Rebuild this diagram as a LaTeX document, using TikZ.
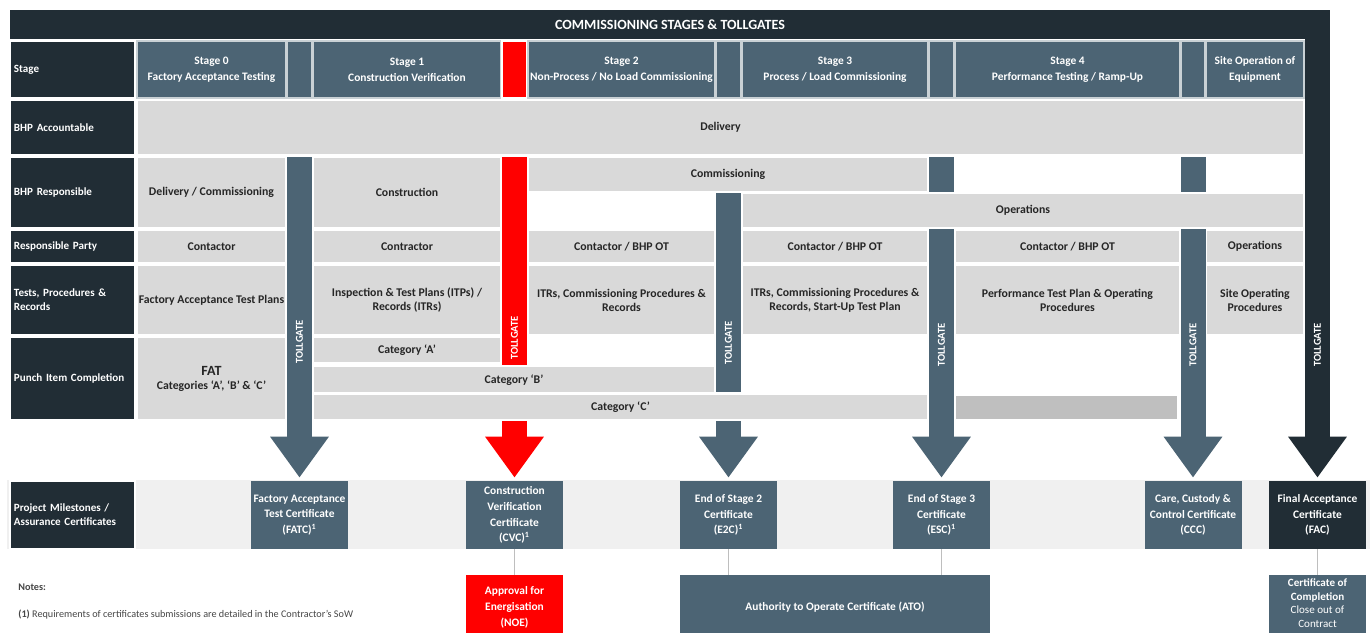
\documentclass[tikz,border=0pt]{standalone}
\usepackage{fontspec}
\setmainfont{Carlito}
\usetikzlibrary{positioning,arrows.meta}
\definecolor{TollNavy}{RGB}{33,45,53}
\definecolor{StageSlate}{RGB}{76,100,116}
\definecolor{CellGrey}{RGB}{217,217,217}
\definecolor{BandGrey}{RGB}{240,240,240}
\definecolor{DeepGrey}{RGB}{191,191,191}
\definecolor{GateRed}{RGB}{255,0,0}
\definecolor{InkGrey}{RGB}{38,38,38}
\definecolor{NoteGrey}{RGB}{70,70,70}
\definecolor{LinkGrey}{RGB}{190,190,190}
\newcommand{\tabfont}{\fontsize{6.7}{8}\selectfont\bfseries}
\newcommand{\stagefont}{\fontsize{6.5}{9}\selectfont\bfseries}
\newcommand{\rowfont}{\fontsize{6.3}{8}\selectfont\bfseries}
\newcommand{\certfont}{\fontsize{6.5}{9}\selectfont\bfseries}
\newcommand{\notefont}{\fontsize{5.8}{7}\selectfont}
\newcommand{\gatefont}{\fontsize{6}{7}\selectfont\bfseries}
\newcommand{\titlefont}{\fontsize{8}{9}\selectfont\bfseries}
\tikzset{
  cellbox/.style args={#1,#2,#3,#4}{at={({(#1+#3)/2},{(#2+#4)/2})},
    minimum width={(#3-#1)*0.2mm},minimum height={(#4-#2)*0.2mm}},
  cell/.style={fill=CellGrey,draw=white,line width=0.6pt,inner sep=0pt,
    align=center,text=InkGrey,font=\tabfont},
  overcell/.style={cell,line width=1.6pt},
  darkcell/.style={cell,fill=DeepGrey},
  stagecell/.style={fill=StageSlate,draw=white!70!StageSlate,line width=0.6pt,
    inner sep=0pt,align=center,text=white,font=\stagefont},
  redcell/.style={stagecell,fill=GateRed,draw=white},
  rowhead/.style={fill=TollNavy,draw=white,line width=0.6pt,inner sep=0pt,
    align=left,text width=23.4mm,text=white,font=\rowfont},
  titlebar/.style={fill=TollNavy,inner sep=0pt,text=white,font=\titlefont},
  certbox/.style={fill=StageSlate,inner sep=0pt,align=center,text=white,font=\certfont},
  finalbox/.style={certbox,fill=TollNavy},
  redbox/.style={certbox,fill=GateRed},
  gatearrow/.style={-{Triangle[width=11.2mm,length=8.2mm]},line width=5mm,
    draw=StageSlate,shorten >=0.6mm},
  redgate/.style={gatearrow,draw=GateRed},
  finalgate/.style={gatearrow,draw=TollNavy},
  gatelabel/.style={rotate=90,inner sep=0pt,text=white,font=\gatefont},
  link/.style={draw=LinkGrey,line width=0.6pt},
  notetext/.style={anchor=west,inner sep=0pt,text=NoteGrey,font=\notefont}
}
\begin{document}
\begin{tikzpicture}[x=0.2mm,y=-0.2mm]
  \fill[white] (0,0) rectangle (1370,633);
  \useasboundingbox (0,0) rectangle (1370,633);
  \node[titlebar,cellbox={10,10,1330,39}] (title) {COMMISSIONING STAGES \& TOLLGATES};

  \node[rowhead,cellbox={10,41,135,98}] (hstage) {Stage};
  \node[rowhead,cellbox={10,100,135,155}] (hacc) {BHP Accountable};
  \node[rowhead,cellbox={10,157,135,228}] (hresp) {BHP Responsible};
  \node[rowhead,cellbox={10,230,135,263}] (hparty) {Responsible Party};
  \node[rowhead,cellbox={10,265,135,335}] (htests) {Tests, Procedures \&\\Records};
  \node[rowhead,cellbox={10,337,135,420}] (hpunch) {Punch Item Completion};

  \node[stagecell,cellbox={137,41,286,98}] (st0) {Stage 0\\Factory Acceptance Testing};
  \node[stagecell,cellbox={287,41,312,98}] (sg0) {};
  \node[stagecell,cellbox={313,41,501,98}] (st1) {Stage 1\\Construction Verification};
  \node[redcell,cellbox={502,41,527,98}] (sg1) {};
  \node[stagecell,cellbox={528,41,715,98}] (st2) {Stage 2\\Non-Process / No Load Commissioning};
  \node[stagecell,cellbox={716,41,741,98}] (sg2) {};
  \node[stagecell,cellbox={742,41,928,98}] (st3) {Stage 3\\Process / Load Commissioning};
  \node[stagecell,cellbox={929,41,954,98}] (sg3) {};
  \node[stagecell,cellbox={955,41,1180,98}] (st4) {Stage 4\\Performance Testing / Ramp-Up};
  \node[stagecell,cellbox={1181,41,1205,98}] (sg4) {};
  \node[stagecell,cellbox={1206,41,1304,98}] (st5) {Site Operation of\\Equipment};

  \node[cell,cellbox={137,100,1304,155}] (delivery) {Delivery};

  \node[cell,cellbox={137,157,286,228}] (rd0) {Delivery / Commissioning};
  \node[cell,cellbox={313,157,501,228}] (rd1) {Construction};
  \node[cell,cellbox={528,157,928,192}] (comm) {Commissioning};

  \node[cell,cellbox={137,230,286,263}] (pa0) {Contactor};
  \node[cell,cellbox={313,230,501,263}] (pa1) {Contractor};
  \node[cell,cellbox={528,230,715,263}] (pa2) {Contactor / BHP OT};
  \node[cell,cellbox={742,230,928,263}] (pa3) {Contactor / BHP OT};
  \node[cell,cellbox={955,230,1180,263}] (pa4) {Contactor / BHP OT};
  \node[cell,cellbox={1206,230,1304,263}] (pa5) {Operations};

  \node[cell,cellbox={137,265,286,335}] (te0) {Factory Acceptance Test Plans};
  \node[cell,cellbox={313,265,501,335}] (te1) {Inspection \& Test Plans (ITPs) /\\Records (ITRs)};
  \node[cell,cellbox={528,265,715,335}] (te2) {ITRs, Commissioning Procedures \&\\Records};
  \node[cell,cellbox={742,265,928,335}] (te3) {ITRs, Commissioning Procedures \&\\Records, Start-Up Test Plan};
  \node[cell,cellbox={955,265,1180,335}] (te4) {Performance Test Plan \& Operating\\Procedures};
  \node[cell,cellbox={1206,265,1304,335}] (te5) {Site Operating\\Procedures};

  \node[cell,cellbox={137,337,286,420}] (pu0) {{\fontsize{8}{9}\selectfont FAT}\\Categories `A', `B' \& `C'};
  \node[cell,cellbox={313,337,501,363}] (cata) {Category `A'};
  \node[darkcell,cellbox={955,395,1178,420}] (catc4) {};

  \fill[BandGrey] (7,480) rectangle (1370,549);
  \node[rowhead,cellbox={10,481,135,549}] (hmile) {Project Milestones /\\Assurance Certificates};
  \node[certbox,cellbox={251,481,348,549}] (fatc) {Factory Acceptance\\Test Certificate\\(FATC)\textsuperscript{1}};
  \node[certbox,cellbox={466,481,563,549}] (cvc) {Construction\\Verification\\Certificate\\(CVC)\textsuperscript{1}};
  \node[certbox,cellbox={680,481,777,549}] (e2c) {End of Stage 2\\Certificate\\(E2C)\textsuperscript{1}};
  \node[certbox,cellbox={893,481,990,549}] (esc) {End of Stage 3\\Certificate\\(ESC)\textsuperscript{1}};
  \node[certbox,cellbox={1144.5,481,1241.5,549}] (ccc) {Care, Custody \&\\Control Certificate\\(CCC)};
  \node[finalbox,cellbox={1269,481,1366,549}] (fac) {Final Acceptance\\Certificate\\(FAC)};

  \node[redbox,cellbox={466,575,563,640}] (noe) {Approval for\\Energisation\\(NOE)};
  \node[certbox,cellbox={680,575,990,640}] (ato) {Authority to Operate Certificate (ATO)};
  \node[certbox,cellbox={1269,575,1366,640},font=\fontsize{6.3}{7.6}\selectfont\bfseries,
    text depth=5pt] (coc) {Certificate of\\Completion\\\mdseries Close out of\\\mdseries Contract};

  \coordinate (g0) at (299.5,157);
  \coordinate (g1) at (514.5,157);
  \coordinate (g2) at (728.5,193);
  \coordinate (g3) at (941.5,157);
  \coordinate (g4) at (1193,157);
  \coordinate (g5) at (1317.5,39);
  \draw[gatearrow] (g0) -- (g0 |- fatc.north);
  \draw[redgate] (g1) -- (g1 |- cvc.north);
  \draw[gatearrow] (g2) -- (g2 |- e2c.north);
  \draw[gatearrow] (g3) -- (g3 |- esc.north);
  \draw[gatearrow] (g4) -- (g4 |- ccc.north);
  \draw[finalgate] (g5) -- (g5 |- fac.north);
  \node[gatelabel] (tl0) at (299.5,342) {TOLLGATE};
  \node[gatelabel] (tl1) at (514.5,338) {TOLLGATE};
  \node[gatelabel] (tl2) at (728.5,343) {TOLLGATE};
  \node[gatelabel] (tl3) at (941.5,345) {TOLLGATE};
  \node[gatelabel] (tl4) at (1193,345) {TOLLGATE};
  \node[gatelabel] (tl5) at (1317.5,345) {TOLLGATE};

  \node[cell,cellbox={742,193,1304,228}] (oper) {Operations};
  \node[overcell,cellbox={313,366,715,393.5}] (catb) {Category `B'};
  \node[overcell,cellbox={313,393.5,928,420}] (catc) {Category `C'};

  \draw[link] (cvc.south) -- (noe.north);
  \draw[link] (e2c.south) -- (e2c.south |- ato.north);
  \draw[link] (esc.south) -- (esc.south |- ato.north);
  \draw[link] (fac.south) -- (coc.north);

  \node[notetext] (notes) at (18,587) {\bfseries Notes:};
  \node[notetext] (note1) at (18,615) {\textbf{(1)} Requirements of certificates submissions are detailed in the Contractor's SoW};
\end{tikzpicture}
\end{document}
